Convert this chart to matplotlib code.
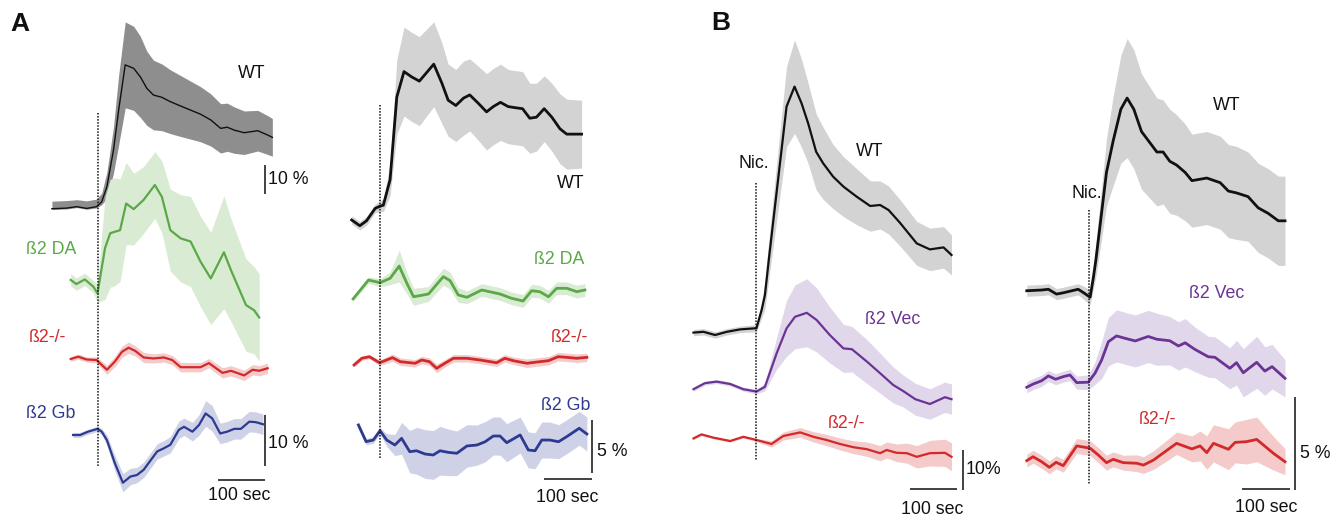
import matplotlib
matplotlib.use('Agg')
import matplotlib.pyplot as plt
import numpy as np
from matplotlib import font_manager

# ---------------- data (time in s relative to nicotine, response in %) ----------------
# Panel A, left
a1_wt_t = [-97, -66, -44, -23, -2, 9, 20, 34, 45, 59, 77, 91, 105, 119, 137, 155, 177, 198, 219, 241, 262, 276, 291, 312, 341, 362, 372]
a1_wt_v = [0, 0.2, 0.7, 0.1, 0.7, 2.4, 7.6, 20.2, 34, 49.6, 48.4, 45.5, 41.5, 39.2, 38.4, 36.9, 35.4, 34, 32.6, 30.6, 27.7, 28.1, 27.1, 26.2, 26.9, 25.4, 24.6]
a1_wt_up = [2.6, 2.6, 2.4, 2.6, 2.6, 3.0, 5, 8, 12, 14.8, 14.5, 14, 12.8, 12, 11.5, 11, 10.5, 10, 9.5, 9, 8.5, 8.3, 8, 7.5, 7, 6.7, 6.5]
a1_wt_lo = [0.3, 0.3, 0.3, 0.3, 0.4, 1.0, 4, 8, 12, 14.8, 14.5, 14, 12.8, 12, 11.5, 11, 10.5, 10, 9.5, 9, 8.5, 8.3, 8, 7.5, 7, 6.7, 6.5]

a1_da_t = [-57, -45, -27, -9, 0, 16, 27, 37, 48, 61, 77, 98, 122, 137, 155, 177, 198, 219, 241, 269, 284, 316, 333, 344]
a1_da_v = [0.4, -0.4, 0.5, -0.9, -2.2, 6.6, 9.5, 9.8, 10.1, 15.3, 14.2, 16, 18.9, 16.6, 10.1, 8.5, 7.9, 4.0, 0.7, 5.8, 2.3, -4.5, -5.5, -6.9]
a1_da_e = [1.2, 1.2, 1.2, 1.2, 1.8, 10, 10.5, 10.5, 10, 8, 7, 6.5, 6.5, 7, 8, 8.5, 8.8, 8.8, 9, 11, 10, 9, 8.5, 8.5]

a1_ko_t = [-57, -41, -23, -2, 20, 37, 52, 66, 80, 98, 119, 141, 159, 177, 219, 237, 266, 284, 312, 330, 344, 362]
a1_ko_v = [0, 0.45, -0.1, -0.2, -2.1, -0.5, 1.4, 2.2, 1.6, 0.3, 0.1, 0.3, -0.2, -1.6, -1.6, -0.8, -2.7, -2.3, -3.2, -2.1, -2.3, -1.8]
a1_ko_e = [0.5, 0.5, 0.5, 0.6, 0.9, 1.0, 1.1, 1.1, 1.0, 1.0, 0.9, 0.9, 0.9, 0.9, 0.9, 0.9, 1.0, 1.0, 1.0, 1.0, 1.0, 1.0]

a1_gb_t = [-52, -37, -20, 0, 9, 20, 37, 54, 70, 84, 98, 127, 141, 155, 173, 184, 202, 216, 230, 244, 261, 276, 291, 305, 323, 337, 352]
a1_gb_v = [0, 0, 0.65, 1.2, 0.65, -1.0, -5.5, -9.3, -8.1, -7.8, -6.8, -3.2, -2.6, -1.9, 1.0, 1.6, 0.65, 1.95, 4.2, 3.25, 0.3, 0.65, 1.2, 1.2, 2.6, 2.5, 2.1]
a1_gb_e = [0.5, 0.5, 0.5, 0.5, 0.6, 1.0, 1.5, 1.8, 1.6, 1.5, 1.5, 1.5, 1.5, 1.6, 1.7, 1.7, 1.8, 2, 2.5, 2.5, 2, 2, 2, 2, 2, 2, 2]

# Panel A, right
a2_wt_t = [-59, -42, -28, -10, 0, 7, 21, 35, 50, 66, 82, 97, 112, 129, 142, 158, 174, 187, 205, 222, 236, 251, 267, 281, 297, 312, 326, 342, 358, 375, 389, 420]
a2_wt_v = [0, -0.54, -0.07, 1.1, 1.3, 1.4, 3.8, 11.6, 14.0, 13.5, 13.1, 13.9, 14.7, 12.9, 11.3, 10.8, 11.5, 11.8, 11.0, 10.2, 10.7, 11.1, 10.7, 10.6, 10.5, 9.6, 9.7, 10.5, 9.7, 8.6, 8.1, 8.1]
a2_wt_e = [0.4, 0.4, 0.4, 0.4, 0.5, 0.6, 1.5, 3.5, 4.2, 4.2, 4.2, 4.1, 4.0, 3.8, 3.4, 3.4, 3.5, 3.4, 3.5, 3.6, 3.6, 3.6, 3.5, 3.5, 3.5, 3.3, 3.2, 3.1, 3.2, 3.3, 3.3, 3.2]

a2_da_t = [-56, -24, 0, 21, 40, 56, 70, 101, 132, 146, 163, 181, 212, 250, 274, 298, 316, 333, 351, 368, 389, 410, 427]
a2_da_v = [-1.5, 0.28, 0.03, 0.44, 1.6, -0.03, -1.3, -1.04, 0.6, 0.22, -1.13, -1.35, -0.66, -1.04, -1.44, -1.7, -0.73, -0.82, -1.3, -0.5, -0.5, -0.82, -0.66]
a2_da_e = [0.2, 0.3, 0.4, 0.6, 1.5, 1.0, 0.8, 0.7, 0.8, 0.8, 0.7, 0.6, 0.6, 0.6, 0.6, 0.6, 0.6, 0.6, 0.6, 0.6, 0.6, 0.6, 0.6]

a2_ko_t = [-54, -38, -22, -1, 10, 26, 42, 73, 87, 103, 118, 135, 153, 181, 208, 243, 260, 278, 306, 333, 351, 371, 389, 410, 431]
a2_ko_v = [-0.28, 0.35, 0.5, -0.07, 0.12, 0.41, 0.03, -0.12, 0.19, 0.03, -0.6, -0.12, 0.35, 0.35, 0.19, -0.07, 0.35, 0.12, -0.12, 0.03, 0.12, 0.5, 0.44, 0.35, 0.44]
a2_ko_e = [0.2, 0.2, 0.2, 0.25, 0.3, 0.35, 0.35, 0.35, 0.35, 0.35, 0.4, 0.35, 0.35, 0.35, 0.35, 0.35, 0.35, 0.35, 0.4, 0.4, 0.4, 0.4, 0.4, 0.4, 0.4]

a2_gb_t = [-45, -29, -14, 0, 14, 31, 45, 62, 76, 94, 111, 125, 142, 160, 181, 202, 219, 236, 250, 264, 292, 309, 323, 337, 354, 372, 389, 415, 431]
a2_gb_v = [0.85, -0.72, -0.57, 0.31, -0.57, -1.04, -0.41, -1.67, -1.58, -1.89, -1.98, -1.58, -1.73, -1.82, -1.13, -1.04, -0.73, -0.19, -0.19, -0.82, -0.09, -1.51, -1.58, -0.57, -0.57, -0.73, -0.25, 0.54, 0]
a2_gb_e = [0.3, 0.3, 0.3, 0.3, 0.6, 1.0, 1.5, 2.0, 2.2, 2.3, 2.3, 2.3, 2.2, 2.1, 2.0, 1.9, 1.9, 1.8, 1.8, 1.8, 1.7, 1.7, 1.7, 1.7, 1.7, 1.6, 1.6, 1.6, 1.6]

# Panel B, left
b1_wt_t = [-133, -112, -87, -62, -34, 1, 12, 19, 28, 65, 82, 97, 111, 128, 143, 164, 186, 214, 243, 264, 282, 306, 342, 370, 399, 416]
b1_wt_v = [-0.4, -0.2, -1.0, -0.2, 0.4, 0.7, 5.25, 9.0, 18.6, 56.1, 61.1, 56.9, 51.9, 44.8, 41.9, 38.6, 36.1, 33.6, 31.25, 31.5, 30.25, 27.1, 21.9, 20.4, 20.9, 19.0]
b1_wt_e = [0.8, 0.8, 0.8, 0.8, 0.8, 0.9, 2, 3.5, 5, 10, 11.7, 11, 10, 9.5, 9, 8, 7.5, 7, 6.3, 6, 6, 5.8, 5.5, 5.3, 5.2, 5.0]

b1_vec_t = [-133, -109, -84, -55, -27, 1, 19, 44, 65, 83, 108, 129, 157, 186, 204, 236, 264, 292, 313, 339, 370, 402, 416]
b1_vec_v = [-0.8, 0.7, 1.1, 0.5, -0.8, -1.4, -0.2, 8.2, 14.4, 17.3, 18.3, 16.5, 12.75, 9.4, 9.2, 6.1, 3.2, 0.25, -1.25, -3.3, -4.5, -2.8, -3.3]
b1_vec_e = [0.5, 0.5, 0.5, 0.5, 0.5, 0.6, 1.0, 4, 7, 8, 8.5, 8, 7, 6, 5.7, 5.5, 5, 4.5, 4, 4, 3.8, 3.8, 3.8]

b1_ko_t = [-133, -116, -91, -55, -27, 1, 33, 58, 94, 122, 150, 179, 207, 236, 264, 278, 299, 321, 342, 370, 402, 416]
b1_ko_v = [-0.1, 0.9, 0.1, -0.75, 0.3, -0.5, -1.5, 0.5, 1.4, 0.3, -0.5, -1.5, -2.3, -2.8, -3.8, -3.0, -3.7, -3.8, -4.7, -3.8, -3.7, -4.7]
b1_ko_e = [0.3, 0.3, 0.3, 0.3, 0.3, 0.4, 0.8, 1.0, 1.2, 1.3, 1.4, 1.5, 1.6, 1.8, 1.9, 2.0, 2.2, 2.5, 2.8, 3.2, 3.4, 3.5]

# Panel B, right
b2_wt_t = [-129, -98, -84, -67, -53, -22, -11, 3, 10, 15, 37, 51, 67, 80, 94, 110, 142, 155, 169, 183, 201, 215, 246, 274, 291, 308, 332, 353, 374, 395, 409]
b2_wt_v = [0.04, 0.08, 0.12, -0.14, -0.07, 0.12, -0.06, -0.31, 0.8, 1.7, 6.4, 8.1, 9.8, 10.4, 9.8, 8.6, 7.5, 7.5, 7.0, 6.8, 6.4, 5.96, 6.1, 5.85, 5.4, 5.3, 5.1, 4.5, 4.2, 3.8, 3.8]
b2_wt_e = [0.3, 0.3, 0.3, 0.3, 0.3, 0.3, 0.35, 0.4, 0.6, 0.9, 1.8, 2.4, 2.9, 3.2, 3.2, 3.1, 2.9, 2.8, 2.8, 2.7, 2.6, 2.5, 2.5, 2.5, 2.5, 2.5, 2.4, 2.4, 2.4, 2.4, 2.4]

b2_vec_t = [-129, -116, -98, -84, -69, -53, -39, -25, -1, 13, 27, 41, 58, 76, 97, 124, 142, 169, 187, 201, 221, 249, 263, 294, 308, 322, 350, 367, 382, 409]
b2_vec_v = [-0.39, -0.22, -0.04, 0.22, 0.04, 0.18, 0.27, -0.14, -0.12, 0.36, 1.08, 2.06, 2.37, 2.24, 2.1, 2.34, 2.19, 2.11, 1.83, 2.0, 1.65, 1.25, 1.22, 0.63, 0.93, 0.39, 0.95, 0.48, 0.72, 0.09]
b2_vec_e = [0.3, 0.3, 0.3, 0.3, 0.3, 0.3, 0.3, 0.35, 0.4, 0.6, 1.0, 1.3, 1.4, 1.4, 1.4, 1.4, 1.4, 1.3, 1.3, 1.3, 1.2, 1.1, 1.1, 1.1, 1.2, 1.3, 1.4, 1.3, 1.2, 1.0]

b2_ko_t = [-129, -116, -98, -82, -68, -53, -25, 3, 20, 37, 51, 72, 100, 114, 135, 159, 183, 215, 232, 246, 260, 291, 305, 329, 350, 385, 409]
b2_ko_v = [0.02, 0.23, -0.04, -0.34, -0.07, -0.25, 0.81, 0.69, 0.32, -0.09, 0.09, -0.09, -0.12, -0.22, 0.05, 0.5, 0.95, 0.65, 0.81, 0.45, 0.95, 0.63, 1.0, 1.04, 1.16, 0.41, -0.04]
b2_ko_e = [0.35, 0.35, 0.35, 0.35, 0.35, 0.35, 0.4, 0.4, 0.4, 0.4, 0.4, 0.4, 0.45, 0.45, 0.5, 0.55, 0.6, 0.7, 0.8, 0.9, 1.0, 1.1, 1.1, 1.2, 1.2, 0.9, 0.7]

# ---------------- styling ----------------
W, H = 1341, 519
fig = plt.figure(figsize=(W / 100, H / 100), dpi=100)
fig.patch.set_facecolor('white')

names = {f.name for f in font_manager.fontManager.ttflist}
FONT = ['Liberation Sans Narrow', 'Liberation Sans', 'DejaVu Sans'] if 'Liberation Sans Narrow' in names else ['Liberation Sans', 'DejaVu Sans']
FS = 12.8

BLACK = '#111111'
GREEN, GREEN_B = '#5aa846', '#d9ebd3'
RED, RED_B = '#d22a2a', '#f4caca'
BLUE, BLUE_B = '#2c3a90', '#cfd2e7'
PURPLE, PURPLE_B = '#6b3393', '#e1d7eb'
GRAY_B = '#d3d3d3'
DARK_B = '#8e8e8e'
BAR = '#333333'


def make_axes(x_nic, px_per_s, px_per_pct):
    ax = fig.add_axes([0, 0, 1, 1])
    ax.set_xlim(-x_nic / px_per_s, (W - x_nic) / px_per_s)
    ax.set_ylim(-H / px_per_pct, 0)
    ax.axis('off')
    ax.patch.set_alpha(0)
    return ax


def to_data(ax, x_px, row):
    return ax.transData.inverted().transform((x_px, H - row))


def trace(ax, row, t, v, e_up, color, band, lw, e_lo=None):
    t = np.asarray(t, float)
    v = np.asarray(v, float)
    e_up = np.asarray(e_up, float)
    e_lo = e_up if e_lo is None else np.asarray(e_lo, float)
    off = to_data(ax, 0, row)[1]
    ax.fill_between(t, v - e_lo + off, v + e_up + off, color=band, lw=0, zorder=1)
    ax.plot(t, v + off, color=color, lw=lw, zorder=3, solid_joinstyle='round')


def nic_line(ax, row_top, row_bot):
    y0 = to_data(ax, 0, row_top)[1]
    y1 = to_data(ax, 0, row_bot)[1]
    ax.plot([0, 0], [y0, y1], color=BLACK, lw=1.1, ls=(0, (1.0, 1.0)), zorder=4)


def vbar(ax, x_px, row_bot, pct):
    x, y = to_data(ax, x_px, row_bot)
    ax.plot([x, x], [y, y + pct], color=BAR, lw=1.3, zorder=4, solid_capstyle='butt')


def hbar(ax, x_px_right, row, secs):
    x, y = to_data(ax, x_px_right, row)
    ax.plot([x - secs, x], [y, y], color=BAR, lw=1.3, zorder=4, solid_capstyle='butt')


def label(x, y, s, color=BLACK, ha='center', size=FS, **kw):
    fig.text(x / W, 1 - y / H, s, color=color, ha=ha, va='center', fontsize=size,
             family=kw.pop('family', FONT), **kw)


# ---------------- Panel A left ----------------
axA1wt = make_axes(97.5, 0.47, 2.9)
trace(axA1wt, 208.7, a1_wt_t, a1_wt_v, a1_wt_up, BLACK, DARK_B, 1.0, e_lo=a1_wt_lo)
vbar(axA1wt, 265, 193.5, 10)

axA1 = make_axes(97.5, 0.47, 5.13)
trace(axA1, 282, a1_da_t, a1_da_v, a1_da_e, GREEN, GREEN_B, 1.6)
trace(axA1, 359, a1_ko_t, a1_ko_v, a1_ko_e, RED, RED_B, 1.6)
trace(axA1, 435, a1_gb_t, a1_gb_v, a1_gb_e, BLUE, BLUE_B, 1.6)
nic_line(axA1, 113, 466)
vbar(axA1, 265.5, 466, 10)
hbar(axA1, 265, 480, 100)

# ---------------- Panel A right ----------------
axA2 = make_axes(380, 0.48, 10.6)
trace(axA2, 220, a2_wt_t, a2_wt_v, a2_wt_e, BLACK, GRAY_B, 2.0)
trace(axA2, 283, a2_da_t, a2_da_v, a2_da_e, GREEN, GREEN_B, 2.0)
trace(axA2, 362, a2_ko_t, a2_ko_v, a2_ko_e, RED, RED_B, 2.0)
trace(axA2, 434, a2_gb_t, a2_gb_v, a2_gb_e, BLUE, BLUE_B, 2.0)
nic_line(axA2, 105, 458)
vbar(axA2, 591.7, 473.3, 5)
hbar(axA2, 591.7, 479.3, 100)

# ---------------- Panel B left ----------------
axB1 = make_axes(756, 0.47, 4.0)
trace(axB1, 331, b1_wt_t, b1_wt_v, b1_wt_e, BLACK, GRAY_B, 1.6)
trace(axB1, 386, b1_vec_t, b1_vec_v, b1_vec_e, PURPLE, PURPLE_B, 1.6)
trace(axB1, 438, b1_ko_t, b1_ko_v, b1_ko_e, RED, RED_B, 1.6)
nic_line(axB1, 183, 460)
vbar(axB1, 962.7, 490, 10)
hbar(axB1, 956.7, 489.3, 100)

# ---------------- Panel B right ----------------
axB2 = make_axes(1088.7, 0.48, 18.6)
trace(axB2, 291.5, b2_wt_t, b2_wt_v, b2_wt_e, BLACK, GRAY_B, 2.0)
trace(axB2, 380, b2_vec_t, b2_vec_v, b2_vec_e, PURPLE, PURPLE_B, 2.0)
trace(axB2, 461, b2_ko_t, b2_ko_v, b2_ko_e, RED, RED_B, 2.0)
nic_line(axB2, 210, 485)
vbar(axB2, 1295, 490, 5)
hbar(axB2, 1290, 489.3, 100)

# ---------------- text ----------------
BOLD = ['Liberation Sans', 'DejaVu Sans']
label(20, 24, 'A', size=19, fontweight='bold', family=BOLD)
label(721, 23, 'B', size=19, fontweight='bold', family=BOLD)

label(252, 74, 'WT')
label(268, 180, '10 %', ha='left')
label(51, 250, 'ß2 DA', color=GREEN)
label(47, 338, 'ß2-/-', color=RED)
label(51, 413, 'ß2 Gb', color=BLUE)
label(268, 443, '10 %', ha='left')
label(239, 495, '100 sec')

label(571, 184, 'WT')
label(559, 260, 'ß2 DA', color=GREEN)
label(569, 337, 'ß2-/-', color=RED)
label(566, 405, 'ß2 Gb', color=BLUE)
label(597, 452, '5 %', ha='left')
label(567, 498, '100 sec')

label(754, 163, 'Nic.')
label(870, 152, 'WT')
label(893, 320, 'ß2 Vec', color=PURPLE)
label(846, 423, 'ß2-/-', color=RED)
label(966, 470, '10%', ha='left')
label(932, 509, '100 sec')

label(1087, 193, 'Nic.')
label(1227, 105, 'WT')
label(1217, 293, 'ß2 Vec', color=PURPLE)
label(1157, 420, 'ß2-/-', color=RED)
label(1300, 453, '5 %', ha='left')
label(1266, 508, '100 sec')

fig.savefig('out.png', dpi=100)
